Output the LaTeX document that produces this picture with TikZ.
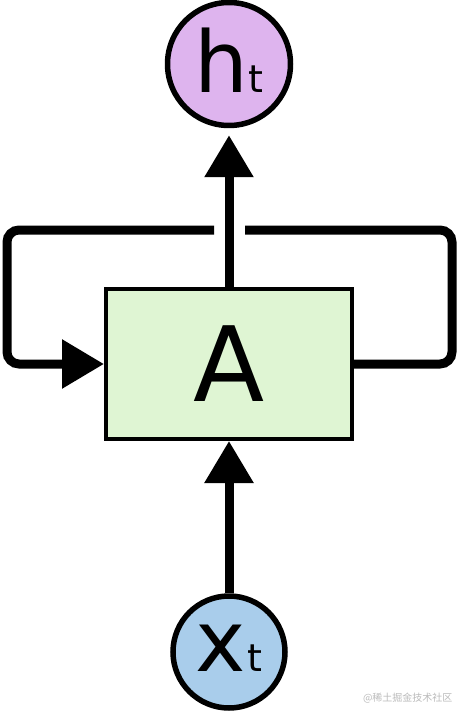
\documentclass[tikz,border=0pt]{standalone}
\usepackage{fontspec}
\setmainfont{DejaVu Sans}
\newfontfamily\cjk{Noto Sans CJK SC}
\usetikzlibrary{arrows.meta}

\definecolor{hpurple}{RGB}{222,180,238}
\definecolor{xblue}{RGB}{169,205,235}
\definecolor{cellgreen}{RGB}{223,245,211}

\newcommand{\steplabel}[1]{\raisebox{4pt}[\height][\depth]{{\fontsize{85}{85}\selectfont #1}\kern1pt{\fontsize{38}{38}\selectfont t}}}

\begin{document}
\begin{tikzpicture}[x=1pt,y=-1pt,
  state/.style={circle,draw,line width=5.5pt,inner sep=0pt},
  cell/.style={rectangle,draw,line width=4pt,fill=cellgreen,minimum width=246pt,minimum height=150pt,inner sep=0pt},
  wire/.style={line width=9pt,rounded corners=12pt},
  tip/.style={-{Triangle[length=42pt,width=47pt]}}]

\useasboundingbox (0,0) rectangle (458,711);

\node [state,fill=hpurple,minimum size=123pt] (h) at (229,64) {\steplabel{h}};
\node [cell] (A) at (229,364) {\fontsize{104}{104}\selectfont A};
\node [state,fill=xblue,minimum size=112pt] (x) at (229,652) {\steplabel{x}};

\coordinate (gapL) at (214,230);
\coordinate (gapR) at (245,230);

\draw [wire] (A.east) -| (452,230) -- (gapR);
\draw [wire,tip] (gapL) -- (7,230) |- (A.west);

\draw [wire,tip,shorten >=7pt] (A.north) -- (h.south);
\draw [wire,tip] (x.north) -- (A.south);

\node [text=black!27,anchor=east] (mark) at (456,698) {\cjk\fontsize{10}{10}\selectfont @稀土掘金技术社区};

\end{tikzpicture}
\end{document}
